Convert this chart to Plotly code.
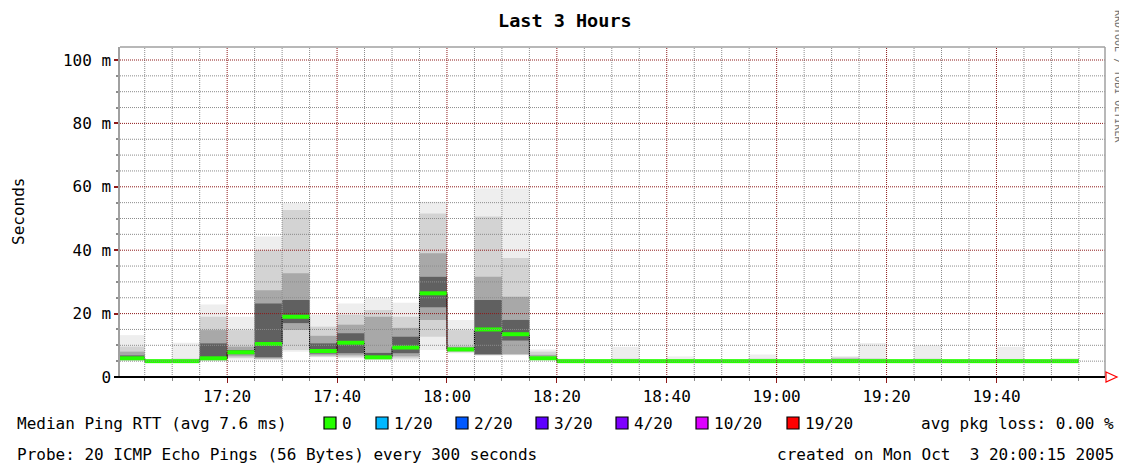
import plotly.graph_objects as go
import pandas as pd

# ---------------- data ----------------
first_bin = "2005-10-03 17:00:00"
range_start = "2005-10-03 17:00:30"
range_end = "2005-10-03 19:59:45"

ping_min = [5.0, 4.7, 4.6, 5.0, 5.5, 5.4, 8.0, 6.2, 5.9, 5.4, 5.4, 8.5, 7.5, 6.8, 6.9, 5.4,
            4.7, 4.7, 4.7, 4.7, 4.7, 4.7, 4.7, 4.7, 4.7, 4.7, 4.7, 4.7, 4.7, 4.7, 4.7, 4.7, 4.7, 4.7, 4.7]
ping_p10 = [5.2, 4.75, 4.7, 5.2, 6.0, 5.6, 8.5, 6.4, 6.2, 5.6, 5.8, 12.7, 7.8, 6.9, 7.0, 5.5,
            4.8, 4.8, 4.8, 4.8, 4.8, 4.8, 4.8, 4.8, 4.8, 4.8, 4.8, 4.8, 4.8, 4.8, 4.8, 4.8, 4.8, 4.8, 4.8]
ping_p25 = [5.4, 4.8, 4.8, 5.5, 6.5, 5.8, 14.8, 6.8, 6.8, 5.8, 6.5, 18.0, 8.1, 7.0, 7.2, 5.6,
            4.9, 4.9, 4.9, 4.9, 4.9, 4.9, 4.9, 4.9, 4.9, 4.9, 4.9, 4.9, 4.9, 4.9, 4.9, 4.9, 4.9, 4.9, 4.9]
ping_p40 = [5.6, 4.9, 4.9, 5.7, 7.2, 6.2, 17.0, 7.4, 7.5, 6.0, 7.5, 22.0, 8.4, 7.2, 11.5, 5.7,
            4.95, 4.95, 4.95, 4.95, 4.95, 4.95, 4.95, 4.95, 4.95, 4.95, 4.95, 4.95, 4.95, 4.95, 4.95,
            4.95, 4.95, 4.95, 4.95]
median_rtt = [5.9, 5.0, 5.0, 5.9, 7.8, 10.4, 19.0, 8.2, 10.8, 6.2, 9.3, 26.4, 8.7, 15.0, 13.5, 5.9,
              5.0, 5.0, 5.0, 5.0, 5.0, 5.0, 5.0, 5.0, 5.0, 5.0, 5.0, 5.0, 5.0, 5.0, 5.0, 5.0, 5.0, 5.0, 5.0]
ping_p60 = [6.8, 5.1, 5.2, 10.6, 8.5, 23.2, 24.3, 10.6, 13.8, 7.6, 12.7, 31.6, 9.2, 24.3, 18.0, 6.3,
            5.1, 5.1, 5.1, 5.1, 5.1, 5.1, 5.1, 5.1, 5.1, 5.1, 5.1, 5.1, 5.1, 5.1, 5.1, 5.1, 5.1, 5.1, 5.1]
ping_p75 = [8.0, 5.2, 5.4, 14.8, 9.6, 27.4, 32.7, 13.0, 16.5, 19.0, 15.5, 39.0, 9.6, 31.6, 25.3, 7.0,
            5.2, 5.2, 5.2, 5.2, 5.2, 5.2, 5.2, 5.2, 5.2, 5.2, 5.8, 5.2, 5.2, 5.2, 5.2, 5.2, 5.2, 5.2, 5.2]
ping_p90 = [9.6, 5.4, 5.8, 19.0, 14.8, 40.0, 52.7, 15.9, 19.6, 21.1, 19.0, 51.6, 14.8, 50.6, 37.5, 8.0,
            5.4, 5.4, 5.8, 5.3, 5.6, 5.3, 5.4, 5.8, 5.3, 5.3, 6.2, 5.9, 5.4, 5.8, 5.3, 5.3, 5.7, 5.3, 5.5]
ping_max = [13.2, 5.6, 10.8, 22.9, 19.0, 44.3, 54.8, 19.6, 23.2, 24.8, 23.4, 55.3, 18.0, 59.5, 59.5, 8.7,
            5.8, 5.6, 9.5, 5.5, 6.5, 5.5, 5.6, 7.1, 5.5, 5.5, 6.6, 10.7, 5.6, 10.0, 5.5, 5.5, 9.5, 5.5, 6.0]

loss_labels = ["0", "1/20", "2/20", "3/20", "4/20", "10/20", "19/20"]
loss_colors = ["#26ff00", "#00b8ff", "#0059ff", "#5e00ff", "#7e00ff", "#dd00ff", "#ff0000"]

y_tick_vals = [0, 20, 40, 60, 80, 100]
y_tick_text = ["0", "20 m", "40 m", "60 m", "80 m", "100 m"]

title_text = "Last 3 Hours"
avg_rtt_ms = 7.6
avg_loss_pct = 0.00
probe_text = "Probe: 20 ICMP Echo Pings (56 Bytes) every 300 seconds"
created_text = "created on Mon Oct  3 20:00:15 2005"
watermark = "RRDTOOL / TOBI OETIKER"

# ---------------- layout constants ----------------
PAGE_W, PAGE_H = 1127, 465
OFF = 8                      # default body margin of the html page
W, H = PAGE_W - OFF, PAGE_H - OFF
L, R, T, B = 120, 1105, 47, 377   # plot area in page pixels
PW, PH = R - L, B - T
MONO = "DejaVu Sans Mono"
MAJOR_GRID = "#8e1a1a"
MINOR_GRID = "#8c8c8c"
BIN_MS = 5 * 60 * 1000
FS = 16


def px(xp):
    return (xp - L) / PW


def py(yp):
    return (B - yp) / PH


n = len(median_rtt)
starts = pd.date_range(first_bin, periods=n, freq="5min")
ends = starts + pd.Timedelta(minutes=5)

fig = go.Figure()

# smoke bands, outermost (lightest) first
bands = [
    (ping_min, ping_max, "#eeeeee"),
    (ping_p10, ping_p90, "#d3d3d3"),
    (ping_p25, ping_p75, "#a8a8a8"),
    (ping_p40, ping_p60, "#606060"),
]
for lo, hi, col in bands:
    fig.add_trace(go.Bar(
        x=starts, y=[h - l for h, l in zip(hi, lo)], base=lo,
        width=BIN_MS, offset=0,
        marker=dict(color=col, line=dict(width=0)),
        hoverinfo="skip", showlegend=False,
    ))

# thin black step connector of the median
fig.add_trace(go.Scatter(
    x=list(starts) + [ends[-1]], y=median_rtt + [median_rtt[-1]],
    mode="lines", line=dict(color="black", width=1, shape="hv"),
    hoverinfo="skip", showlegend=False,
))

# thick green median segments (loss 0 colour)
seg_x, seg_y = [], []
for s, e, m in zip(starts, ends, median_rtt):
    seg_x += [s, e, None]
    seg_y += [m, m, None]
fig.add_trace(go.Scatter(
    x=seg_x, y=seg_y, mode="lines",
    line=dict(color=loss_colors[0], width=4),
    hoverinfo="skip", showlegend=False,
))

# grid drawn above the data (as rrdtool does)
shapes = []
for t in pd.date_range("2005-10-03 17:05:00", "2005-10-03 19:55:00", freq="5min"):
    major = t.minute % 20 == 0
    shapes.append(dict(type="line", xref="x", yref="paper", x0=t, x1=t, y0=0, y1=1,
                       line=dict(color=MAJOR_GRID if major else MINOR_GRID, width=1, dash="1px,1px"),
                       layer="above"))
for v in range(5, 105, 5):
    major = v % 20 == 0
    shapes.append(dict(type="line", xref="paper", yref="y", x0=0, x1=1, y0=v, y1=v,
                       line=dict(color=MAJOR_GRID if major else MINOR_GRID, width=1, dash="1px,1px"),
                       layer="above"))
# gray frame top / right
shapes.append(dict(type="line", xref="paper", yref="paper", x0=0, x1=1, y0=1, y1=1,
                   line=dict(color="#a0a0a0", width=1.5), layer="above"))
shapes.append(dict(type="line", xref="paper", yref="paper", x0=1, x1=1, y0=0, y1=1,
                   line=dict(color="#a0a0a0", width=1.5), layer="above"))
# black x-axis with red arrow
shapes.append(dict(type="line", xref="paper", yref="paper", x0=px(114), x1=1, y0=0, y1=0,
                   line=dict(color="black", width=2), layer="above"))
shapes.append(dict(type="path", xref="paper", yref="paper",
                   path=f"M {px(1106)},{py(372)} L {px(1117)},{py(377)} L {px(1106)},{py(382)} Z",
                   line=dict(color="red", width=1.2), fillcolor="white", layer="above"))

# legend boxes
box_left = [324, 376, 456, 536, 616, 696, 787]
row1, row2 = 423, 454
for xl, col in zip(box_left, loss_colors):
    shapes.append(dict(type="rect", xref="paper", yref="paper",
                       x0=px(xl), x1=px(xl + 12), y0=py(row1 + 6), y1=py(row1 - 6),
                       line=dict(color="black", width=1.2), fillcolor=col))

annotations = []


def note(text, xp, yp, anchor="left", size=FS, color="black", angle=0, family=MONO):
    annotations.append(dict(text=text, xref="paper", yref="paper", x=px(xp), y=py(yp),
                            xanchor=anchor, yanchor="middle", showarrow=False,
                            textangle=angle, font=dict(family=family, size=size, color=color)))


note(f"Median Ping RTT (avg {avg_rtt_ms:.1f} ms)", 15, row1)
for xl, lab in zip(box_left, loss_labels):
    note(lab, xl + 16, row1)
note(f"avg pkg loss: {avg_loss_pct:.2f} %", 1116, row1, anchor="right")
note(probe_text, 15, row2)
note(created_text, 1116, row2, anchor="right")
note("Seconds", 18, 212, anchor="center", angle=-90)
note(watermark, 1119, 76, anchor="center", size=10, color="#707070", angle=90)
note(f"<b>{title_text}</b>", 565, 20, anchor="center", size=18.5)

fig.update_layout(
    width=W, height=H, autosize=False,
    margin=dict(l=L - OFF, r=PAGE_W - R, t=T - OFF, b=PAGE_H - B, pad=0),
    paper_bgcolor="white", plot_bgcolor="white",
    barmode="overlay", showlegend=False,
    shapes=shapes, annotations=annotations,
    font=dict(family=MONO, size=FS, color="black"),
    xaxis=dict(
        type="date", range=[range_start, range_end],
        tick0="2005-10-03 17:20:00", dtick=20 * 60 * 1000, tickformat="%H:%M",
        showgrid=False, zeroline=False, showline=False,
        ticks="outside", ticklen=5, tickcolor=MAJOR_GRID, tickwidth=1,
        minor=dict(dtick=BIN_MS, ticks="outside", ticklen=3, tickcolor=MINOR_GRID, showgrid=False),
        tickfont=dict(family=MONO, size=FS, color="black"),
        fixedrange=True,
    ),
    yaxis=dict(
        range=[0, 104.1], tickvals=y_tick_vals, ticktext=y_tick_text,
        showgrid=False, zeroline=False,
        showline=True, linecolor="#a0a0a0", linewidth=1.5,
        ticks="outside", ticklen=4, tickcolor=MAJOR_GRID, tickwidth=1.5,
        minor=dict(tickvals=list(range(5, 105, 5)), ticks="outside", ticklen=2,
                   tickcolor=MINOR_GRID, showgrid=False),
        tickfont=dict(family=MONO, size=FS, color="black"),
        fixedrange=True,
    ),
)

fig.write_html("out.html")
